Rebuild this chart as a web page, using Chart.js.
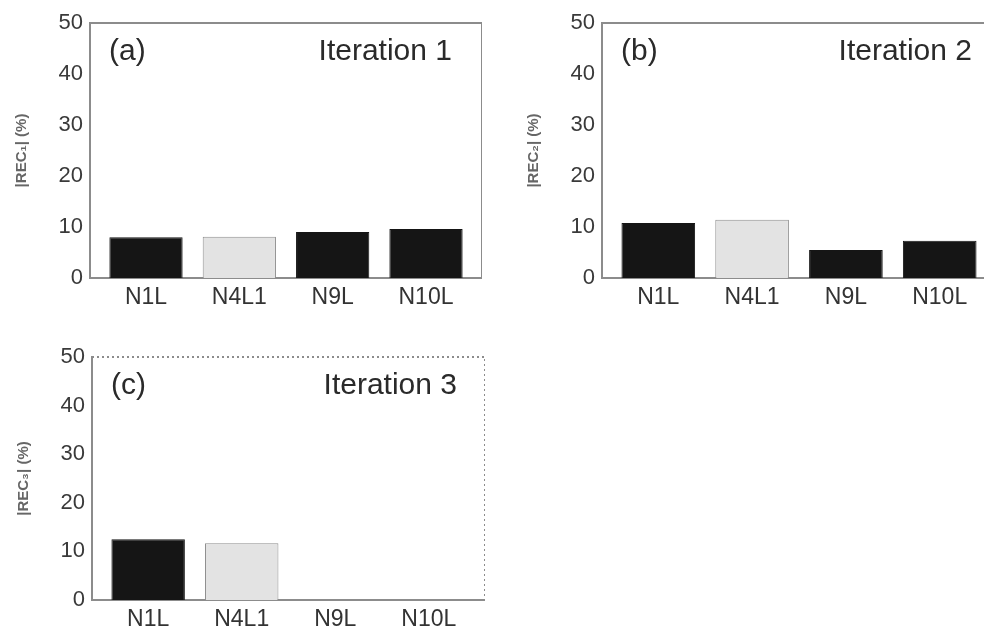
<!DOCTYPE html>
<html>
<head>
    <meta charset="UTF-8">
    <title>REC iterations</title>
    <script src="https://cdn.jsdelivr.net/npm/chart.js"></script>
    <style>
        html, body { margin: 0; padding: 0; background: #fff; overflow: hidden; width: 984px; height: 628px; }
        .panel { position: absolute; }
    </style>
</head>
<body>
    <div class="panel" style="left:0px; top:0px;"><canvas id="chartA" width="482" height="310"></canvas></div>
    <div class="panel" style="left:512px; top:0px;"><canvas id="chartB" width="484" height="310"></canvas></div>
    <div class="panel" style="left:2px; top:334px;"><canvas id="chartC" width="483" height="298"></canvas></div>

    <script>
        var categories = ['N1L', 'N4L1', 'N9L', 'N10L'];
        var iteration1 = [8.0, 8.1, 9.0, 9.6];
        var iteration2 = [10.8, 11.4, 5.5, 7.3];
        var iteration3 = [12.5, 11.7, 0, 0];
        var yTicks = [0, 10, 20, 30, 40, 50];
        var barColors = ['#151515', '#e3e3e3', '#151515', '#151515'];
        var barBorders = ['#151515', '#8f8f8f', '#151515', '#151515'];

        var FONT = '"Liberation Sans", Arial, Helvetica, sans-serif';
        var AXIS_GREY = '#8c8c8c';

        // frame (top/right) and the panel captions
        var framePlugin = {
            id: 'frame',
            afterDraw: function(chart) {
                var o = chart.options.plugins.frame;
                var a = chart.chartArea;
                var ctx = chart.ctx;
                ctx.save();
                ctx.strokeStyle = AXIS_GREY;
                ctx.lineWidth = 2;
                if (o.dashed) ctx.setLineDash([2, 3]);
                ctx.beginPath();
                ctx.moveTo(a.left, a.top);
                ctx.lineTo(a.right, a.top);
                ctx.lineTo(a.right, a.bottom);
                ctx.stroke();
                ctx.setLineDash([]);
                ctx.fillStyle = '#2a2a2a';
                ctx.font = '30px ' + FONT;
                ctx.textBaseline = 'middle';
                ctx.textAlign = 'left';
                ctx.fillText(o.tag, a.left + 19, a.top + 29);
                ctx.textAlign = 'right';
                ctx.fillText(o.title, a.right - o.titleInset, a.top + 29);
                ctx.restore();
            }
        };

        function createPanel(id, values, tag, title, yLabel, dashed, titleInset) {
            var ctx = document.getElementById(id).getContext('2d');
            var points = [];
            for (var i = 0; i < categories.length; i++) {
                points.push({ x: i + 1, y: values[i] });
            }
            return new Chart(ctx, {
                type: 'bar',
                data: {
                    datasets: [{
                        data: points,
                        backgroundColor: barColors,
                        borderColor: barBorders,
                        borderWidth: 1,
                        categoryPercentage: 1,
                        barPercentage: 0.785
                    }]
                },
                options: {
                    responsive: false,
                    animation: false,
                    layout: { padding: { top: 23, right: 0, left: 0, bottom: 0 } },
                    plugins: {
                        legend: { display: false },
                        tooltip: { enabled: false },
                        frame: { tag: tag, title: title, dashed: dashed, titleInset: titleInset }
                    },
                    scales: {
                        x: {
                            type: 'linear',
                            offset: false,
                            min: 0.4,
                            max: 4.6,
                            afterBuildTicks: function(scale) {
                                scale.ticks = categories.map(function(c, i) { return { value: i + 1 }; });
                            },
                            afterFit: function(scale) { scale.height = 32; },
                            grid: { display: false, drawTicks: false },
                            border: { display: true, color: AXIS_GREY, width: 2 },
                            ticks: {
                                padding: 6,
                                color: '#333',
                                font: { family: FONT, size: 23 },
                                maxRotation: 0,
                                autoSkip: false,
                                callback: function(v) { return categories[Math.round(v) - 1]; }
                            }
                        },
                        y: {
                            min: 0,
                            max: 50,
                            afterBuildTicks: function(scale) {
                                scale.ticks = yTicks.map(function(t) { return { value: t }; });
                            },
                            afterFit: function(scale) { scale.width = 90; },
                            grid: { display: false, drawTicks: false },
                            border: { display: true, color: AXIS_GREY, width: 2, dash: dashed ? [2, 3] : [] },
                            ticks: {
                                padding: 7,
                                color: '#3a3a3a',
                                font: { family: FONT, size: 22 }
                            },
                            title: {
                                display: true,
                                text: yLabel,
                                color: '#666',
                                padding: { top: 13, bottom: 0 },
                                font: { family: FONT, size: 15, weight: 'bold' }
                            }
                        }
                    }
                },
                plugins: [framePlugin]
            });
        }

        createPanel('chartA', iteration1, '(a)', 'Iteration 1', '|REC\u2081| (%)', false, 30);
        createPanel('chartB', iteration2, '(b)', 'Iteration 2', '|REC\u2082| (%)', false, 24);
        createPanel('chartC', iteration3, '(c)', 'Iteration 3', '|REC\u2083| (%)', true, 28);
    </script>
</body>
</html>
